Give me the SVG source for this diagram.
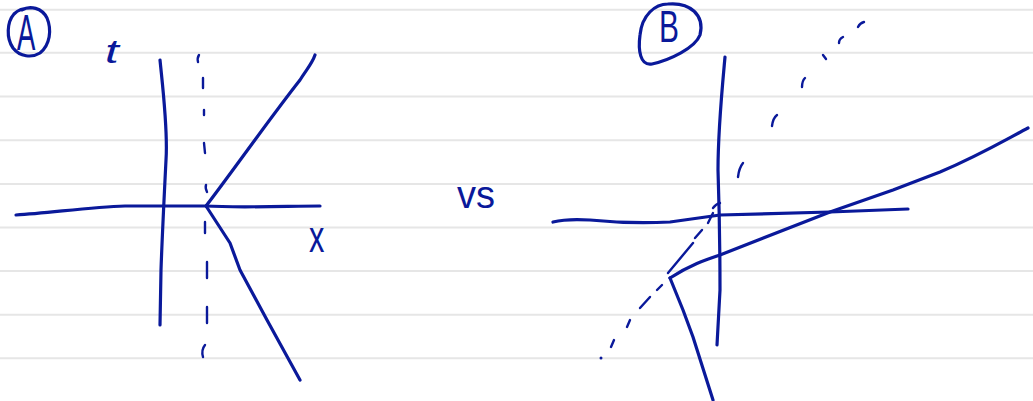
<svg xmlns="http://www.w3.org/2000/svg" width="1033" height="401" viewBox="0 0 1033 401">
<style>
.rule{stroke:#e6e6e6;stroke-width:2;fill:none}
.ink{stroke:#0a199a;stroke-width:3.2;fill:none;stroke-linecap:round;stroke-linejoin:round}
.dash{stroke:#0a199a;stroke-width:2.4;fill:none;stroke-linecap:round}
.lbl{fill:#0a199a;font-family:"Liberation Sans",Arial,sans-serif}
</style>
<rect width="1033" height="401" fill="#ffffff"/>
<g id="ruled-paper">
<line class="rule" x1="0" y1="9.7" x2="1033" y2="9.7"/>
<line class="rule" x1="0" y1="52.7" x2="1033" y2="52.7"/>
<line class="rule" x1="0" y1="96.5" x2="1033" y2="96.5"/>
<line class="rule" x1="0" y1="140.3" x2="1033" y2="140.3"/>
<line class="rule" x1="0" y1="184" x2="1033" y2="184"/>
<line class="rule" x1="0" y1="227.5" x2="1033" y2="227.5"/>
<line class="rule" x1="0" y1="271" x2="1033" y2="271"/>
<line class="rule" x1="0" y1="314.7" x2="1033" y2="314.7"/>
<line class="rule" x1="0" y1="358.3" x2="1033" y2="358.3"/>
</g>
<g id="label-A">
<path class="ink" d="M22 10 C30 5, 42 8, 47 18 C52 30, 50 45, 40 53 C32 58, 20 57, 13 48 C6 38, 7 22, 14 14 C18 10, 24 8, 30 8"/>
<text class="lbl" transform="translate(17,50) scale(0.55,1)" font-size="50">A</text>
</g>
<g id="panel-A">
<g id="A-t-axis"><path class="ink" d="M160 60 C163 90, 168 130, 166 160 C164 200, 162 240, 161 270 L160 325"/></g>
<g id="A-x-axis"><path class="ink" d="M16 215 C50 213, 90 207, 125 206 L205 206 C240 208, 290 206, 320 206"/></g>
<text id="A-t-label" class="lbl" transform="translate(105,63) scale(1.5,1)" font-size="33" font-style="italic">t</text>
<text id="A-x-label" class="lbl" transform="translate(309,252) scale(0.7,1)" font-size="44">x</text>
<g id="A-worldlines">
<path class="ink" d="M206 206 C230 175, 270 118, 300 80 C306 70, 312 64, 315 55"/>
<path class="ink" d="M206 206 L230 243 L240 270 L267 320 L300 380"/>
</g>
<g id="A-dashed">
<path class="dash" d="M198 62 Q197 58 199 55"/>
<path class="dash" d="M203 78 L203 88"/>
<path class="dash" d="M204 110 L204 115"/>
<path class="dash" d="M204 143 L205 153"/>
<path class="dash" d="M206 185 Q205 188 207 192"/>
<path class="dash" d="M205 222 L205 233"/>
<path class="dash" d="M207 262 L207 278"/>
<path class="dash" d="M207 307 L207 323"/>
<path class="dash" d="M205 345 Q201 350 203 357"/>
</g>
</g>
<text id="vs" class="lbl" x="457" y="208" font-size="38">vs</text>
<g id="label-B">
<path class="ink" d="M668 4 C690 2, 705 15, 700 35 C695 48, 670 60, 652 64 C640 66, 638 50, 640 35 C642 15, 655 4, 668 4"/>
<text class="lbl" transform="translate(659,42) scale(0.68,1)" font-size="44">B</text>
</g>
<g id="panel-B">
<g id="B-t-axis"><path class="ink" d="M725 57 C722 90, 718 130, 718 170 C719 200, 720 260, 720 290 L717 345"/></g>
<g id="B-x-axis"><path class="ink" d="M553 222 C565 219, 575 219, 590 220 C620 223, 650 223, 670 222 L720 215 L830 212 L908 209"/></g>
<g id="B-worldlines">
<path class="ink" d="M670 278 C690 265, 705 260, 720 255 L830 212 L893 190 L940 172 C980 155, 1005 140, 1028 128"/>
<path class="ink" d="M670 278 L683 310 L693 337 L713 400"/>
</g>
<g id="B-dashed">
<circle cx="601" cy="358" r="1.5" fill="#0a199a"/>
<path class="dash" d="M611 347 L614 340"/>
<path class="dash" d="M627 327 L630 320"/>
<path class="dash" d="M640 308 L650 297"/>
<path class="dash" d="M657 290 L662 285"/>
<path class="dash" d="M668 273 L693 243"/>
<path class="dash" d="M695 238 L702 230"/>
<path class="dash" d="M708 223 L713 213"/>
<path class="dash" d="M713 208 Q716 204 720 203"/>
<path class="dash" d="M738 177 Q739 168 743 163"/>
<path class="dash" d="M772 126 Q773 118 777 115"/>
<path class="dash" d="M802 87 Q802 81 805 78"/>
<path class="dash" d="M823 55 L826 59"/>
<path class="dash" d="M839 43 Q839 39 843 37"/>
<path class="dash" d="M858 27 Q860 23 864 22"/>
</g>
</g>
</svg>
